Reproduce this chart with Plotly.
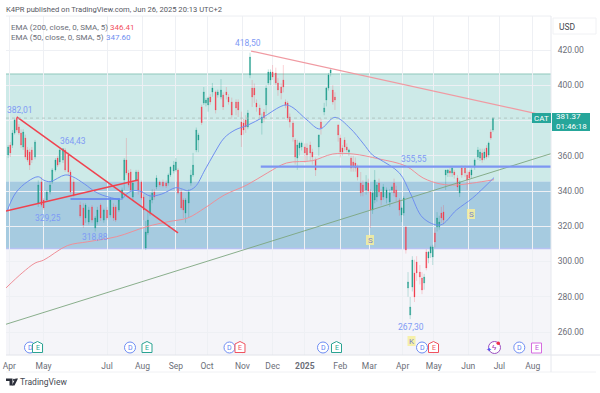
import plotly.graph_objects as go

dates = ["2024-03-31","2024-04-02","2024-04-04","2024-04-06","2024-04-08","2024-04-10","2024-04-12","2024-04-14","2024-04-16","2024-04-18",
"2024-04-20","2024-04-22","2024-04-25","2024-04-28","2024-05-01","2024-05-03","2024-05-06","2024-05-09","2024-05-11","2024-05-14",
"2024-05-16","2024-05-18","2024-05-21","2024-05-23","2024-05-26","2024-05-28","2024-05-31","2024-06-06","2024-06-09","2024-06-11",
"2024-06-14","2024-06-17","2024-06-20","2024-06-22","2024-06-25","2024-06-28","2024-07-01","2024-07-04","2024-07-07","2024-07-09",
"2024-07-12","2024-07-15","2024-07-17","2024-07-19","2024-07-21","2024-07-23","2024-07-25","2024-07-28","2024-07-30","2024-08-02",
"2024-08-04","2024-08-06","2024-08-08","2024-08-10","2024-08-12","2024-08-14","2024-08-16","2024-08-19","2024-08-22","2024-08-25",
"2024-08-27","2024-08-29","2024-09-01","2024-09-03","2024-09-05","2024-09-08","2024-09-10","2024-09-12","2024-09-15","2024-09-17",
"2024-09-19","2024-09-22","2024-09-24","2024-09-27","2024-09-29","2024-10-01","2024-10-03","2024-10-05","2024-10-07","2024-10-10",
"2024-10-12","2024-10-15","2024-10-17","2024-10-20","2024-10-22","2024-10-25","2024-10-29","2024-10-31","2024-11-03","2024-11-05",
"2024-11-07","2024-11-09","2024-11-11","2024-11-13","2024-11-15","2024-11-17","2024-11-20","2024-11-22","2024-11-24","2024-11-26",
"2024-11-28","2024-11-30","2024-12-02","2024-12-05","2024-12-07","2024-12-10","2024-12-12","2024-12-14","2024-12-16","2024-12-18",
"2024-12-21","2024-12-23","2024-12-25","2024-12-27","2024-12-29","2025-01-01","2025-01-03","2025-01-06","2025-01-08","2025-01-11",
"2025-01-14","2025-01-16","2025-01-19","2025-01-21","2025-01-23","2025-01-25","2025-01-27","2025-01-29","2025-02-01","2025-02-03",
"2025-02-05","2025-02-07","2025-02-09","2025-02-11","2025-02-13","2025-02-15","2025-02-17","2025-02-19","2025-02-22","2025-02-24",
"2025-02-27","2025-03-01","2025-03-03","2025-03-05","2025-03-07","2025-03-09","2025-03-11","2025-03-13","2025-03-15","2025-03-18",
"2025-03-21","2025-03-23","2025-03-25","2025-03-27","2025-03-30","2025-04-01","2025-04-03","2025-04-05","2025-04-07","2025-04-09",
"2025-04-11","2025-04-13","2025-04-15","2025-04-18","2025-04-20","2025-04-22","2025-04-24","2025-04-26","2025-04-28","2025-04-30",
"2025-05-02","2025-05-04","2025-05-06","2025-05-08","2025-05-10","2025-05-12","2025-05-14","2025-05-16","2025-05-18","2025-05-20",
"2025-05-23","2025-05-25","2025-05-27","2025-05-30","2025-06-01","2025-06-03","2025-06-05","2025-06-08","2025-06-11","2025-06-13",
"2025-06-15","2025-06-17","2025-06-19","2025-06-21","2025-06-23","2025-06-25"]

opens = [360.4,366.1,366,372.9,381.4,376.3,372.9,365,370.1,363.3,
362.1,363.3,359.3,333.2,345.1,334.9,334.9,339.4,345.1,351.9,
358.7,356.5,357.6,363.3,360.4,350.8,345.1,332,330.4,324.7,
322.4,330.9,319,322.4,332,323.5,329.2,326.4,330.9,330.9,
329.2,336,346.2,357.6,350.2,350.8,336.6,346.2,350.8,345.1,
336.6,307.7,316.2,327.5,334.9,339.4,342.3,345.1,345.1,344.5,
344.5,349.1,351.4,351.9,351.9,339.4,334.9,327.5,333.2,344.5,
349.1,363.3,368.9,387.7,389.9,389.9,388.8,393.3,396.2,396.2,
394.5,393.3,394.5,396.2,393.3,390.5,390.5,390.5,379.1,378.6,
380.3,376.3,405.8,398.4,398.4,389.9,387.1,378.6,384.8,388.8,
401.3,403,407.5,407,401.3,399,403,390.5,389.9,382,
378.6,368.9,358.7,364.4,365,365,364.4,366.1,362.1,357.6,
365,379.1,384.8,391.6,398.4,407,397.3,393.3,377.4,370.1,
364.4,368.9,365,362.1,358.7,356.5,355.9,353.6,344.5,343.4,
340.6,344.5,339.4,329.2,334.9,336.6,344.5,339.4,336.6,336,
333.8,340.6,344.5,340.6,334.9,326.4,327.5,319.6,285,269.6,
285.5,293.5,299.7,294,290.6,287.8,305.4,302,304.8,302.6,
316.2,319.6,319.6,327.5,328.1,349.1,350.2,351.4,350.2,350.8,
347.4,338.9,353,353,349.1,350.8,349.1,353.6,359.3,358.7,
361.6,358.7,364.4,360.4,373.5,374.6]

highs = [366.1,367.8,374.6,381,382,378,375,375,372,365,
364,365,369,346,348,336,340.6,345,353,358.7,
360,364,364.4,364.4,362,352,347,334,333,333,
331,332,325.8,331,333,330,331,336,333,332,
336,342,358.7,370.1,352,352.5,346,352,352,346,
338,323,328,338,341,341,349,346,346.5,346,
350,354,357,358.7,353,341,336,336,341,352,
361.6,376,373,389,399,392.8,393.5,395,401.3,397,
397.5,403.5,396,399,395,393,392,392,385,381,
383,386,418.5,403,401,392,389,384,386.5,400,
409,409,411.5,410,404,401,411.5,392,391,384,
380,370,369,368,368,367,367,368,364,359,
372,381,390,399,407,409.5,400,396,378,372,
366,370.5,367,364,360,360,359,355,350.8,346,
349,347,341,340,351.9,345,347,341,344,342,
341,343,347,343,336,331,337,320,294,279.9,
303,301,303,298,294,293,307,306,309,309.5,
319,328,326,331,332,352,352.5,353,354,352,
349,346,354.5,354.5,351,352,353,358.5,365,364,
364,364,366,368,375,381.8]

lows = [358.7,359.3,364.4,372,373.5,371.8,364.4,363.3,358,356.5,
351.9,355.9,358,331,330.9,329.2,333.8,338,344,351,
353.6,355,355.9,350.8,349,338,336.6,324.7,319,322,
321,322,317,321,323,322,323.5,325,323,322.4,
328,335,340.6,349,342,339.4,335,345,338,334.9,
323.5,306.5,315,326,333,335,341,342.3,342,341.7,
343,348,350,351,338,329.2,324.7,322,325,343,
348,362,362,377.4,388.8,388,385,389,393.5,384,
393,392,386,392,389,381,383,382,365,372,
373,375,404,387.7,390,385,381,372,379,384,
400,400,403,400,394,392,396,387,380,376,
368,355,352,360,363,356,357,357,355,348.5,
360,372,383,388,397,405,389,386,368,359,
360,363,362,360,351,351,351,346,337,337,
338,339,319,327,333,334,337,332,335,333,
331,339,337,334,326,322.4,326,304.5,280,267.3,
283,277,289,287,281.5,284,295,299,302,298,
308,317,318,322,321,340.6,348,348,348,347,
340,336.6,347.5,348,340.6,344,347,352,357.6,357,
356,357.5,358,359,369,373.5]

closes = [365,361.6,372.9,380.3,374.6,372.9,366.1,373.5,359.3,357.6,
354.7,357.6,367.8,343.4,332,330.4,339.4,343.4,351.9,357.6,
354.7,363.3,364,351.9,350.8,339.4,337.7,325.8,320.7,332,
329.2,323.5,324.7,329.2,324.7,329.2,324.7,334.9,324.7,323.5,
334.9,340.6,357.6,350.2,343.4,340.6,344.5,350.8,340.6,336,
329.2,316.7,323.5,334.9,338.9,336.6,347.4,343.4,342.9,342.9,
349.1,353.6,354.7,356.5,338.9,330.4,329.2,334.9,339.4,349.1,
354.7,374.6,371.8,378.8,396.2,391.6,392.8,390.5,398.4,386,
396.2,397.3,387.7,394.5,390.5,383.1,387.1,386,371.8,374.6,
376.3,384.3,416,393.3,394.5,387.7,383.1,382,381.4,398.4,
407.5,407.5,404.7,401.3,397.3,395.6,399,388.8,381.4,379.1,
370.7,359.3,366.1,367.2,367.2,361.6,360.4,361.6,359.3,351.9,
371.8,375.7,387.1,398.4,405.8,408.7,390.5,391.6,371.8,362.1,
362.1,365,363.3,363.3,353,353.6,353,347.9,338.9,339.4,
345.1,340,329.2,338.9,346.2,343.4,339.4,334.9,342.3,340.6,
338.9,342.3,338.9,336.6,329.2,330.4,336,306.5,288.4,274.2,
300.8,279.9,293.5,291.2,283.8,291.2,296.3,305.4,308.3,308.3,
311.1,324.7,322.4,324.7,323.5,351.9,351.9,350.2,353,349.1,
342.3,345.1,349.1,350.2,346.2,347.4,351.9,357.6,363.3,362.1,
357.6,362.1,359.3,367.2,370.1,381.37]

ema50_dates = ["2024-03-30","2024-04-07","2024-04-18","2024-04-28","2024-05-03","2024-05-09","2024-05-23","2024-05-30","2024-06-10","2024-06-20",
"2024-06-29","2024-07-15","2024-07-18","2024-07-25","2024-08-02","2024-08-10","2024-08-21","2024-09-03","2024-09-09","2024-09-14",
"2024-09-21","2024-09-30","2024-10-09","2024-10-18","2024-10-28","2024-11-09","2024-11-23","2024-12-09","2024-12-15","2024-12-21",
"2025-01-03","2025-01-15","2025-01-29","2025-02-12","2025-02-24","2025-03-05","2025-03-11","2025-03-30","2025-04-09","2025-04-21",
"2025-05-07","2025-05-22","2025-06-06","2025-06-26"]
ema50 = [328.6,338.9,345.3,348.1,346.2,345.3,349.1,348.1,344,339.6,
337.2,335.5,337.7,340.2,339.6,337.2,338.3,341.9,341.1,340.2,
342.4,351.9,361.6,370.1,374.6,377.4,381.8,387.8,388.8,387.3,
380.3,375.2,381.8,375.7,367.2,360.4,358.2,350.2,338.9,324.7,
320.7,329.2,336,347.6]

ema200_dates = ["2024-03-29","2024-04-13","2024-04-25","2024-05-03","2024-05-25","2024-06-13","2024-07-10","2024-08-07","2024-08-27","2024-09-14",
"2024-09-30","2024-10-18","2024-11-08","2024-11-27","2024-12-15","2025-01-08","2025-01-27","2025-02-15","2025-03-11","2025-04-05",
"2025-04-21","2025-05-07","2025-05-22","2025-06-06","2025-06-26"]
ema200 = [285,293.5,299.1,300.8,309,311.2,314.1,319.8,322.6,324.7,
330.4,337.7,343.4,350.2,355.9,357.2,361,361,358.2,354.2,
347.4,344,343.4,344.5,346.41]

trend_down_dates = ["2024-04-08","2024-09-05"]
trend_down = [382.01,316.2]
trend_up_dates = ["2024-03-29","2024-07-30"]
trend_up = [328.6,346.2]
level_short_dates = ["2024-05-28","2024-07-13"]
level_short = [335.5,335.5]
level_long_dates = ["2024-11-21","2025-08-18"]
level_long = [353.8,353.8]
resistance_dates = ["2024-11-12","2025-08-18"]
resistance = [419.4,382.1]
support_dates = ["2024-03-29","2025-08-18"]
support = [264.4,361.2]

zone_top, zone_mid, zone_low = 406.4, 345.4, 307.4
last_price = 381.37

price_ticks = [260,280,300,320,340,360,380,400,420]
month_ticks = ["2024-04-01","2024-05-03","2024-07-01","2024-08-03","2024-09-03","2024-10-02","2024-11-04","2024-12-02",
               "2025-01-01","2025-02-03","2025-03-02","2025-04-02","2025-05-01","2025-06-02","2025-07-01","2025-08-01"]
month_labels = ["Apr","May","Jul","Aug","Sep","Oct","Nov","Dec","<b>2025</b>","Feb","Mar","Apr","May","Jun","Jul","Aug"]

FONT = "Roboto, Inter, sans-serif"
GREY = "#6b6e78"
BLUE_TXT = "#7f9bf5"
BLUE = "#7d96f2"

def X(p): return (p - 6) / 545
def Y(p): return (355 - p) / 339

fig = go.Figure()
fig.add_trace(go.Candlestick(
    x=dates, open=opens, high=highs, low=lows, close=closes, whiskerwidth=0,
    increasing=dict(line=dict(color="rgba(20,150,135,0.45)", width=0.6), fillcolor="#1f9e8c"),
    decreasing=dict(line=dict(color="rgba(242,70,85,0.4)", width=0.6), fillcolor="#f23f4f"),
    showlegend=False, hoverinfo="skip"))

def line(x, y, color, width, shape="linear"):
    fig.add_trace(go.Scatter(x=x, y=y, mode="lines", showlegend=False, hoverinfo="skip",
                             line=dict(color=color, width=width, shape=shape)))

line(ema200_dates, ema200, "#ef8f98", 1, "spline")
line(ema50_dates, ema50, "#6f8ff0", 1, "spline")
line(support_dates, support, "#7da67f", 0.9)
line(resistance_dates, resistance, "#f09aa2", 1.2)
line(level_short_dates, level_short, "#5f80f0", 1.6)
line(level_long_dates, level_long, BLUE, 2.2)
line(trend_up_dates, trend_up, "#f0424f", 1.5)
line(trend_down_dates, trend_down, "#f0424f", 1.5)

shapes = [
    dict(type="rect", xref="paper", yref="y", x0=0, x1=1, y0=zone_mid, y1=zone_top, layer="below",
         fillcolor="rgba(38,166,154,0.23)", line=dict(width=0)),
    dict(type="rect", xref="paper", yref="y", x0=0, x1=1, y0=zone_low, y1=zone_mid, layer="below",
         fillcolor="#a6cbe0", line=dict(width=0)),
    dict(type="rect", xref="paper", yref="paper", x0=0, x1=1, y0=0, y1=Y(249), layer="below",
         fillcolor="#f5f5f9", line=dict(width=0)),
    dict(type="line", xref="paper", yref="y", x0=0, x1=1, y0=zone_top, y1=zone_top, layer="below",
         line=dict(color="#8fc7bb", width=1.2)),
    dict(type="line", xref="paper", yref="y", x0=0, x1=1, y0=zone_low, y1=zone_low, layer="below",
         line=dict(color="#b8c2f3", width=1.6)),
    dict(type="line", xref="paper", yref="y", x0=0, x1=1, y0=last_price, y1=last_price,
         line=dict(color="#a9bdb8", width=0.8, dash="dot")),
    # frame
    dict(type="line", xref="paper", yref="paper", x0=0, x1=1, y0=1, y1=1, line=dict(color="#eceef2", width=1)),
    dict(type="line", xref="paper", yref="paper", x0=0, x1=X(600), y0=0, y1=0, line=dict(color="#e2e4ea", width=1)),
    dict(type="line", xref="paper", yref="paper", x0=0, x1=X(596), y0=Y(372), y1=Y(372), line=dict(color="#f0f1f4", width=1)),
    dict(type="line", xref="paper", yref="paper", x0=1, x1=1, y0=Y(372), y1=1, line=dict(color="#e6e8ee", width=1)),
    # USD box
    dict(type="rect", xref="paper", yref="paper", x0=X(553), x1=X(596), y0=Y(34), y1=Y(18), line=dict(color="#f0f1f4", width=1), fillcolor="white"),
    # price labels
    dict(type="rect", xref="paper", yref="paper", x0=X(532), x1=X(551), y0=Y(123), y1=Y(113), fillcolor="#26a69a", line=dict(width=0)),
    dict(type="rect", xref="paper", yref="paper", x0=X(552), x1=X(590), y0=Y(131), y1=Y(113), fillcolor="#26a69a", line=dict(width=0)),
]

annotations = []
def text(px, py, s, size=9, color=GREY, anchor="center", family=FONT):
    annotations.append(dict(xref="paper", yref="paper", x=X(px), y=Y(py), text=s, showarrow=False,
                            xanchor=anchor, yanchor="middle", font=dict(size=size, color=color, family=family),
                            borderpad=0, borderwidth=0, align="left"))

def path(points):
    return "M " + " L ".join(f"{X(a):.5f},{Y(b):.5f}" for a, b in points) + " Z"

def marker_d(px, py=347.5):
    shapes.append(dict(type="circle", xref="paper", yref="paper", x0=X(px-5.5), x1=X(px+5.5), y0=Y(py+5.5), y1=Y(py-5.5),
                       fillcolor="white", line=dict(color="#6d8cf3", width=1)))
    text(px, py, "D", 7, "#5c7df0")

def marker_e(px, color, py=347.5):
    shapes.append(dict(type="path", xref="paper", yref="paper", fillcolor="white", line=dict(color=color, width=1),
                       path=path([(px-5, py-3.5), (px, py-6), (px+5, py-3.5), (px+5, py+5), (px-5, py+5)])))
    text(px, py, "E", 7, color)

def marker_s(px, py, s, size=8):
    shapes.append(dict(type="rect", xref="paper", yref="paper", x0=X(px-4), x1=X(px+4), y0=Y(py+5), y1=Y(py-5),
                       fillcolor="#f6ee9c", line=dict(width=0), opacity=0.85))
    text(px, py, s, size, "#7a86c8")

for d_x, e_x, col in [(30, 37.5, "#2aa392"), (130, 147, "#2aa392"), (229.5, 240, "#f0525f"), (323, 336.5, "#2aa392"), (422, 433.5, "#f0525f")]:
    marker_d(d_x)
    marker_e(e_x, col)
marker_d(519.3)
shapes.append(dict(type="rect", xref="paper", yref="paper", x0=X(531.5), x1=X(541.5), y0=Y(353), y1=Y(343),
                   fillcolor="white", line=dict(color="#d66be0", width=1)))
text(536.5, 348, "E", 7, "#c050d8")
# purple event icon
shapes.append(dict(type="circle", xref="paper", yref="paper", x0=X(488.5), x1=X(500.5), y0=Y(353.5), y1=Y(341.5),
                   fillcolor="white", line=dict(color="#9c4fc0", width=1)))
text(494.5, 347.5, "ϟ", 8, "#9c27b0")
shapes.append(dict(type="circle", xref="paper", yref="paper", x0=X(496.5), x1=X(500), y0=Y(345), y1=Y(341.5),
                   fillcolor="#f0304a", line=dict(width=0)))
text(488.5, 350, "✦", 7, "#4f5df0")

marker_s(411.5, 341, "K")
marker_s(370, 240, "S")
marker_s(471, 214, "S")

# value callouts
for px, py, s in [(20, 110, "382,01"), (73, 141, "364,43"), (48, 218, "329,25"), (95, 237, "318,88"),
                  (248, 43, "418,50"), (413.5, 159, "355,55"), (411, 327, "267,30")]:
    text(px, py, s, 8.5, BLUE_TXT)

# header and legend
text(6, 10, "K4PR published on TradingView.com, Jun 26, 2025 20:13 UTC+2", 7.6, "#55585f", "left")
text(11, 27, "EMA (200, close, 0, SMA, 5)", 8, "#6b6e78", "left")
text(110, 27, "346.41", 8, "#f2505e", "left")
text(11, 37, "EMA (50, close, 0, SMA, 5)", 8, "#6b6e78", "left")
text(106, 37, "347.60", 8, "#6f8ff0", "left")

# price scale decorations
text(559, 26.5, "USD", 8.5, "#44474f", "left")
text(541.5, 118, "CAT", 8, "white")
text(556, 122, "381.37<br>01:46:18", 8, "white", "left")

# logo
shapes.append(dict(type="path", xref="paper", yref="paper", fillcolor="#2a2e39", line=dict(width=0),
                   path=path([(6, 378.5), (12.5, 378.5), (12.5, 385.5), (9.5, 385.5), (9.5, 381), (6, 381)])))
shapes.append(dict(type="circle", xref="paper", yref="paper", x0=X(13), x1=X(15), y0=Y(381), y1=Y(378.8), fillcolor="#2a2e39", line=dict(width=0)))
shapes.append(dict(type="path", xref="paper", yref="paper", fillcolor="#2a2e39", line=dict(width=0),
                   path=path([(15.5, 378.5), (18, 378.5), (14.5, 385.5), (11.8, 385.5)])))
text(20, 382, "TradingView", 8.5, "#454952", "left")

fig.update_layout(
    width=600, height=393, autosize=False,
    margin=dict(l=6, r=49, t=16, b=38, pad=0),
    paper_bgcolor="white", plot_bgcolor="white",
    showlegend=False, shapes=shapes, annotations=annotations, hovermode=False,
    font=dict(family=FONT, color=GREY, size=9),
    xaxis=dict(type="date", range=["2024-03-29", "2025-08-18"], tickmode="array", tickvals=month_ticks, ticktext=month_labels,
               automargin=False,
               rangeslider=dict(visible=False), showgrid=True, gridcolor="#eef0f4", gridwidth=1, zeroline=False, showline=False,
               ticks="outside", ticklen=3, tickcolor="rgba(0,0,0,0)", tickangle=0, tickfont=dict(size=8.5, color=GREY, family=FONT)),
    yaxis=dict(side="right", range=[246.95, 439.3], tickmode="array", tickvals=price_ticks, ticktext=[f"{v}.00" for v in price_ticks],
               automargin=False,
               showgrid=True, gridcolor="#eef0f4", gridwidth=1, zeroline=False, showline=False,
               ticks="outside", ticklen=4, tickcolor="rgba(0,0,0,0)", tickfont=dict(size=8.5, color=GREY, family=FONT)),
)

fig.write_html("out.html", config=dict(displayModeBar=False),
               post_script="document.body.style.margin='0';document.documentElement.style.overflow='hidden';")
